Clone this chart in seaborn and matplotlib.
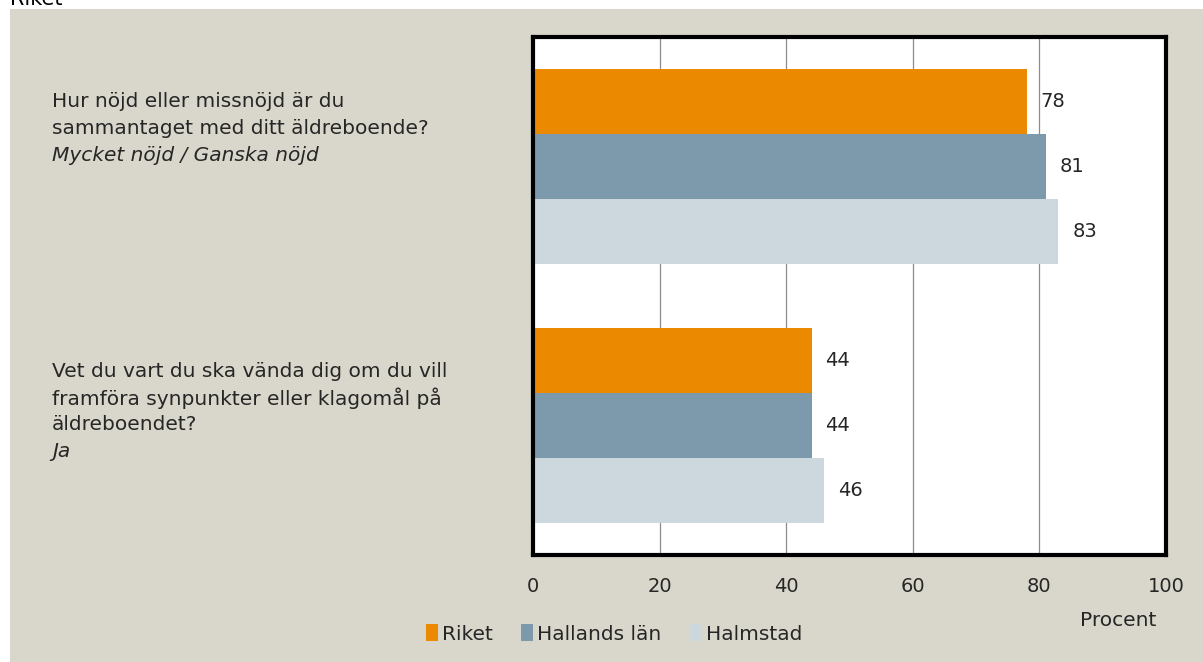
import numpy as np
import pandas as pd
import matplotlib.pyplot as plt
import matplotlib.transforms as mtransforms
from matplotlib.patches import Rectangle
import seaborn as sns

# data
questions = ["q1", "q2"]
question_lines = [
    [("Hur nöjd eller missnöjd är du", "normal"),
     ("sammantaget med ditt äldreboende?", "normal"),
     ("Mycket nöjd / Ganska nöjd", "italic")],
    [("Vet du vart du ska vända dig om du vill", "normal"),
     ("framföra synpunkter eller klagomål på", "normal"),
     ("äldreboendet?", "normal"),
     ("Ja", "italic")],
]
series = ["Riket", "Hallands län", "Halmstad"]
riket = [78, 44]
hallands_lan = [81, 44]
halmstad = [83, 46]
x_ticks = [0, 20, 40, 60, 80, 100]

colors = ["#EB8A00", "#7C9AAC", "#CDD8DE"]
bg = "#D9D7CB"
text_col = "#262626"

df = pd.DataFrame({
    "fraga": questions * 3,
    "omrade": np.repeat(series, len(questions)),
    "procent": riket + hallands_lan + halmstad,
})

sns.set_theme(style="white")
plt.rcParams["font.family"] = ["DejaVu Sans"]

fig = plt.figure(figsize=(12.03, 6.62), dpi=100, facecolor="white")
# beige panel behind everything
fig.patches.append(Rectangle((10 / 1203, 0), 1, 1 - 9 / 662, transform=fig.transFigure,
                             facecolor=bg, edgecolor="none", zorder=-10))
fig.text(10 / 1203, 1 - 5 / 662, "Riket", fontsize=15, color="black", va="baseline", ha="left")

ax = fig.add_axes([533 / 1203, 1 - 555 / 662, 633 / 1203, 518 / 662])
ax.set_facecolor("white")

sns.barplot(data=df, y="fraga", x="procent", hue="omrade", orient="h",
            palette=colors, width=0.75, saturation=1, linewidth=0, ax=ax, legend=True)

for cont in ax.containers:
    ax.bar_label(cont, padding=10, fontsize=14, color=text_col)

ax.set_xlim(0, 100)
ax.set_xticks(x_ticks)
ax.set_xticklabels([str(t) for t in x_ticks], fontsize=14, color=text_col)
ax.tick_params(axis="x", length=0, pad=16)
ax.set_yticks([])
ax.set_ylabel("")
ax.set_xlabel("Procent", fontsize=14.5, color=text_col)
ax.xaxis.set_label_coords(0.924, -0.127)
ax.xaxis.label.set_va("center")
ax.xaxis.grid(True, color="#8C8C8C", linewidth=0.9)
ax.set_axisbelow(True)
for sp in ax.spines.values():
    sp.set_color("black")
    sp.set_linewidth(3)

# question texts left of the plot, in data rows
trans = mtransforms.blended_transform_factory(fig.transFigure, ax.transData)
first_line = [-0.25, -0.21]
line_step = 0.104
for i, lines in enumerate(question_lines):
    for j, (txt, style) in enumerate(lines):
        ax.text(52 / 1203, i + first_line[i] + j * line_step, txt, transform=trans,
                fontsize=14.5, style=style, color=text_col, va="center", ha="left",
                clip_on=False)

handles, labels = ax.get_legend_handles_labels()
ax.get_legend().remove()
for h in handles:
    h.set_edgecolor("none")
fig.legend(handles, labels, loc="center", bbox_to_anchor=(614 / 1203, 1 - 634 / 662),
           ncol=3, frameon=False, fontsize=14.5, handlelength=0.6, handleheight=0.9,
           handletextpad=0.2, columnspacing=1.4, labelcolor=text_col)

fig.savefig("out.png", dpi=100, facecolor="white")
